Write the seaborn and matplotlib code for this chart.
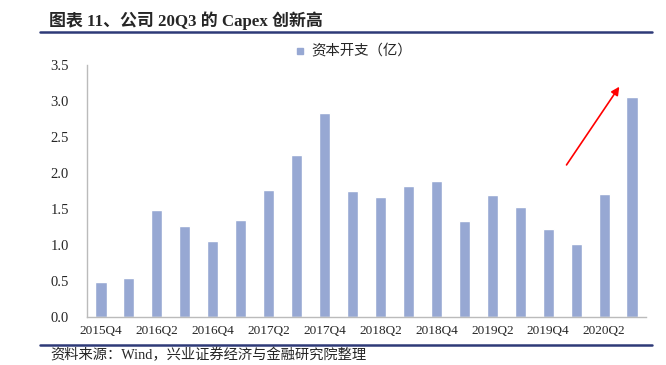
import numpy as np
import pandas as pd
import matplotlib
matplotlib.use("Agg")
import matplotlib.pyplot as plt
import seaborn as sns
from matplotlib.lines import Line2D

# quarterly capex data
quarters = ["2015Q4", "2016Q1", "2016Q2", "2016Q3", "2016Q4",
            "2017Q1", "2017Q2", "2017Q3", "2017Q4",
            "2018Q1", "2018Q2", "2018Q3", "2018Q4",
            "2019Q1", "2019Q2", "2019Q3", "2019Q4",
            "2020Q1", "2020Q2", "2020Q3"]
capex = [0.48, 0.54, 1.49, 1.26, 1.06,
         1.35, 1.76, 2.25, 2.83,
         1.75, 1.67, 1.82, 1.89,
         1.34, 1.69, 1.53, 1.22,
         1.01, 1.71, 3.05]
series_name = "资本开支（亿）"
title_text = "图表 11、公司 20Q3 的 Capex 创新高"
source_text = "资料来源：Wind，兴业证券经济与金融研究院整理"

df = pd.DataFrame({"quarter": quarters, "capex": capex})

sns.set_style("white")
serif = ["Liberation Serif", "Noto Sans CJK SC"]
cjk = ["Noto Sans CJK SC", "DejaVu Sans"]
plt.rcParams["font.family"] = serif

bar_color = "#97a8d3"
navy = "#2e3a78"

fig = plt.figure(figsize=(6.66, 3.65), dpi=100)
ax = fig.add_axes([0.1306, 0.1315, 0.8394, 0.6905])

sns.barplot(data=df, x="quarter", y="capex", color=bar_color, width=0.4,
            saturation=1, ax=ax)

ax.set_ylim(0, 3.5)
ax.set_xlim(-0.5, len(quarters) - 0.5)
ax.set_yticks(np.arange(0, 3.51, 0.5))
ax.set_yticklabels([f"{v:.1f}" for v in np.arange(0, 3.51, 0.5)], fontsize=10.5)
ax.set_xticks(range(0, len(quarters), 2))
ax.set_xticklabels(quarters[::2], fontsize=9.5)
ax.set_xticks(np.arange(-0.5, len(quarters), 1), minor=True)
ax.tick_params(axis="x", which="major", length=0, pad=6)
ax.tick_params(axis="x", which="minor", length=3, color="#bbbbbb", direction="out")
ax.tick_params(axis="y", length=3, color="#bbbbbb", direction="out", pad=10)
ax.set_xlabel("")
ax.set_ylabel("")
for s in ["top", "right"]:
    ax.spines[s].set_visible(False)
for s in ["left", "bottom"]:
    ax.spines[s].set_color("#bbbbbb")
    ax.spines[s].set_linewidth(1)

# legend
handle = Line2D([], [], marker="s", linestyle="", color=bar_color, markersize=5)
leg = fig.legend([handle], [series_name], loc="center", bbox_to_anchor=(0.53, 0.858),
                 frameon=False, prop={"family": cjk, "size": 10.4},
                 handletextpad=0.4, handlelength=0.8)

# red arrow
ax.annotate("", xy=(18.6, 3.23), xytext=(16.6, 2.08),
            arrowprops=dict(arrowstyle="-|>", color="red", lw=1.2, mutation_scale=12))

# title, rules and source
fig.text(0.074, 0.943, title_text, fontsize=12.2, fontweight="bold",
         family=serif, va="center", ha="left")
fig.add_artist(Line2D([0.06, 0.979], [0.913, 0.913], color=navy, lw=1.8))
fig.add_artist(Line2D([0.06, 0.979], [0.055, 0.055], color=navy, lw=1.8))
fig.text(0.075, 0.027, source_text, fontsize=10.3, family=serif,
         va="center", ha="left")

fig.savefig("out.png", dpi=100)
